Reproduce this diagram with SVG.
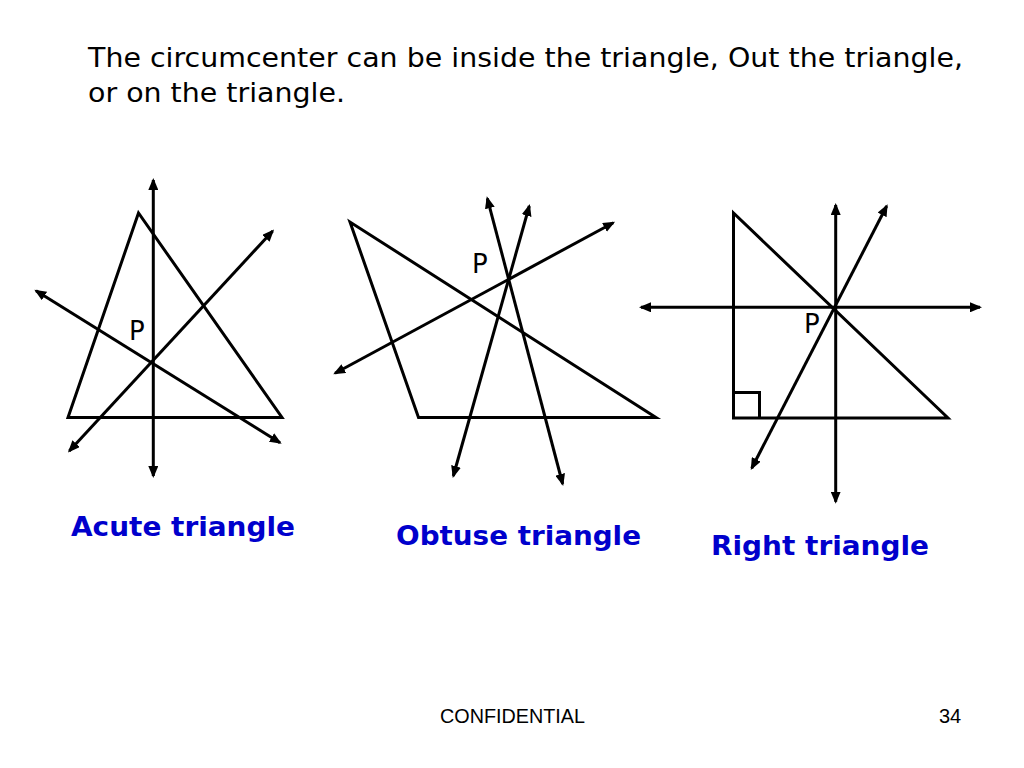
<svg xmlns="http://www.w3.org/2000/svg" width="1024" height="768" viewBox="0 0 1024 768">
<defs>
<marker id="arr" viewBox="0 0 12 10" refX="10" refY="5" markerWidth="12" markerHeight="10" markerUnits="userSpaceOnUse" orient="auto-start-reverse">
<path d="M0,0 L12,5 L0,10 Z" fill="#000"/>
</marker>
<style>
.tri{fill:none;stroke:#000;stroke-width:3;stroke-linejoin:miter}
.ln{fill:none;stroke:#000;stroke-width:3;marker-start:url(#arr);marker-end:url(#arr)}
.p{font-family:"DejaVu Sans",Verdana,sans-serif;font-size:26px;fill:#000}
.lab{font-family:"DejaVu Sans",Verdana,sans-serif;font-size:26px;font-weight:bold;fill:#0000CC}
.title{font-family:"DejaVu Sans",Verdana,sans-serif;font-size:26px;fill:#000}
.foot{font-family:"Liberation Sans",Arial,sans-serif;font-size:20px;fill:#000}
</style>
</defs>
<rect width="1024" height="768" fill="#fff"/>
<g id="title">
<text class="title" x="88" y="67" textLength="875" lengthAdjust="spacingAndGlyphs">The circumcenter can be inside the triangle, Out the triangle,</text>
<text class="title" x="88" y="102" textLength="257" lengthAdjust="spacingAndGlyphs">or on the triangle.</text>
</g>
<g id="acute">
<polygon class="tri" points="138.5,213 68,417.5 282,417.5"/>
<text class="p" x="129" y="340">P</text>
<text class="lab" x="71" y="536" textLength="224" lengthAdjust="spacingAndGlyphs">Acute triangle</text>
</g>
<g id="obtuse">
<polygon class="tri" points="350,222 418.5,417.5 656,417.5"/>
<text class="p" x="472" y="273">P</text>
<text class="lab" x="396" y="545" textLength="245" lengthAdjust="spacingAndGlyphs">Obtuse triangle</text>
</g>
<g id="right">
<polygon class="tri" points="733.5,213 733.5,418 948,418"/>
<polyline class="tri" points="733.5,392.5 759.5,392.5 759.5,418"/>
<text class="p" x="804" y="333">P</text>
<text class="lab" x="711" y="555" textLength="218" lengthAdjust="spacingAndGlyphs">Right triangle</text>
</g>
<g id="connectors">
<line class="ln" x1="153.3" y1="180" x2="153.3" y2="476"/>
<line class="ln" x1="36" y1="290.7" x2="280" y2="442.7"/>
<line class="ln" x1="69.3" y1="451" x2="272.7" y2="231"/>
<line class="ln" x1="335" y1="373.3" x2="613.3" y2="222.7"/>
<line class="ln" x1="487.3" y1="198.3" x2="562.7" y2="484"/>
<line class="ln" x1="529.3" y1="206" x2="453.3" y2="476"/>
<line class="ln" x1="641" y1="307.3" x2="980" y2="307.3"/>
<line class="ln" x1="835.7" y1="205" x2="835.7" y2="501.7"/>
<line class="ln" x1="751.7" y1="468.3" x2="886.7" y2="206"/>
</g>
<g id="footer">
<text class="foot" x="440" y="723" textLength="145" lengthAdjust="spacingAndGlyphs">CONFIDENTIAL</text>
<text class="foot" x="939" y="723">34</text>
</g>
</svg>
